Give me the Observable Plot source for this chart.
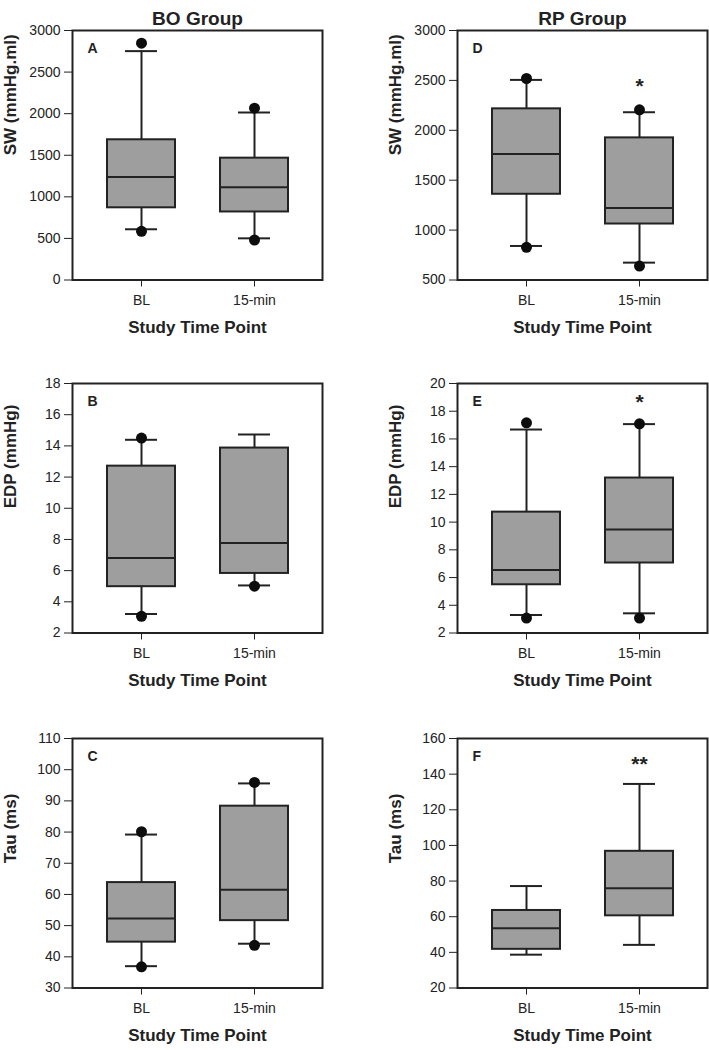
<!DOCTYPE html>
<html><head><meta charset="utf-8">
<script src="https://cdn.jsdelivr.net/npm/d3@7"></script>
<script src="https://cdn.jsdelivr.net/npm/@observablehq/plot@0.6"></script>
<style>
body{margin:0;background:#fff;}
#wrap{position:relative;width:709px;height:1050px;overflow:hidden;background:#fff;}
.cell{position:absolute;}
</style></head><body><div id="wrap"></div>
<script>
const times = ["BL", "15-min"];
const groups = ["BO Group", "RP Group"];
const xTitle = "Study Time Point";

// Panel A: SW, BO group
const boxA = [
  {time: "BL", lo: 610, q1: 868, med: 1237, q3: 1686, hi: 2752},
  {time: "15-min", lo: 501, q1: 818, med: 1116, q3: 1465, hi: 2014}
];
const outA = [{time: "BL", v: 2848}, {time: "BL", v: 586}, {time: "15-min", v: 2066}, {time: "15-min", v: 481}];
const ticksA = [0, 500, 1000, 1500, 2000, 2500, 3000];

// Panel B: EDP, BO group
const boxB = [
  {time: "BL", lo: 3.22, q1: 4.97, med: 6.81, q3: 12.70, hi: 14.39},
  {time: "15-min", lo: 5.05, q1: 5.82, med: 7.77, q3: 13.86, hi: 14.73}
];
const outB = [{time: "BL", v: 14.5}, {time: "BL", v: 3.07}, {time: "15-min", v: 5.0}];
const ticksB = [2, 4, 6, 8, 10, 12, 14, 16, 18];

// Panel C: Tau, BO group
const boxC = [
  {time: "BL", lo: 37.0, q1: 44.7, med: 52.3, q3: 63.8, hi: 79.2},
  {time: "15-min", lo: 44.2, q1: 51.6, med: 61.5, q3: 88.3, hi: 95.6}
];
const outC = [{time: "BL", v: 80.1}, {time: "BL", v: 36.8}, {time: "15-min", v: 95.9}, {time: "15-min", v: 43.7}];
const ticksC = [30, 40, 50, 60, 70, 80, 90, 100, 110];

// Panel D: SW, RP group
const boxD = [
  {time: "BL", lo: 841, q1: 1359, med: 1763, q3: 2215, hi: 2505},
  {time: "15-min", lo: 674, q1: 1061, med: 1222, q3: 1924, hi: 2181}
];
const outD = [{time: "BL", v: 2519}, {time: "BL", v: 828}, {time: "15-min", v: 2205}, {time: "15-min", v: 640}];
const starsD = [{time: "15-min", v: 2499, s: "*"}];
const ticksD = [500, 1000, 1500, 2000, 2500, 3000];

// Panel E: EDP, RP group
const boxE = [
  {time: "BL", lo: 3.30, q1: 5.48, med: 6.54, q3: 10.72, hi: 16.68},
  {time: "15-min", lo: 3.42, q1: 7.05, med: 9.47, q3: 13.18, hi: 17.07}
];
const outE = [{time: "BL", v: 17.16}, {time: "BL", v: 3.08}, {time: "15-min", v: 17.09}, {time: "15-min", v: 3.08}];
const starsE = [{time: "15-min", v: 19.1, s: "*"}];
const ticksE = [2, 4, 6, 8, 10, 12, 14, 16, 18, 20];

// Panel F: Tau, RP group
const boxF = [
  {time: "BL", lo: 38.7, q1: 41.7, med: 53.5, q3: 63.5, hi: 77.2},
  {time: "15-min", lo: 44.2, q1: 60.5, med: 76.0, q3: 96.7, hi: 134.5}
];
const outF = [];
const starsF = [{time: "15-min", v: 148.9, s: "**"}];
const ticksF = [20, 40, 60, 80, 100, 120, 140, 160];

const panels = [
  {letter: "A", col: 0, row: 0, box: boxA, out: outA, stars: [], ticks: ticksA, domain: [0, 3000], yLabel: "SW (mmHg.ml)"},
  {letter: "B", col: 0, row: 1, box: boxB, out: outB, stars: [], ticks: ticksB, domain: [2, 18], yLabel: "EDP (mmHg)"},
  {letter: "C", col: 0, row: 2, box: boxC, out: outC, stars: [], ticks: ticksC, domain: [30, 110], yLabel: "Tau (ms)"},
  {letter: "D", col: 1, row: 0, box: boxD, out: outD, stars: starsD, ticks: ticksD, domain: [500, 3000], yLabel: "SW (mmHg.ml)"},
  {letter: "E", col: 1, row: 1, box: boxE, out: outE, stars: starsE, ticks: ticksE, domain: [2, 20], yLabel: "EDP (mmHg)"},
  {letter: "F", col: 1, row: 2, box: boxF, out: outF, stars: starsF, ticks: ticksF, domain: [20, 160], yLabel: "Tau (ms)"}
];

const ink = "#222";
const boxFill = "#9e9e9e";
const wrap = document.getElementById("wrap");

for (const p of panels) {
  const left = p.col === 0;
  const W = left ? 354 : 355;
  const H = p.row === 2 ? 342 : 353;
  const top = [0, 353, 708][p.row];
  const marks = [
    Plot.ruleX(p.box, {x: "time", y1: "q3", y2: "hi", stroke: ink, strokeWidth: 2}),
    Plot.ruleX(p.box, {x: "time", y1: "lo", y2: "q1", stroke: ink, strokeWidth: 2}),
    Plot.tickY(p.box, {x: "time", y: "hi", insetLeft: 18, insetRight: 18, stroke: ink, strokeWidth: 2}),
    Plot.tickY(p.box, {x: "time", y: "lo", insetLeft: 18, insetRight: 18, stroke: ink, strokeWidth: 2}),
    Plot.barY(p.box, {x: "time", y1: "q1", y2: "q3", fill: boxFill, stroke: ink, strokeWidth: 2}),
    Plot.tickY(p.box, {x: "time", y: "med", stroke: ink, strokeWidth: 2}),
    Plot.dot(p.out, {x: "time", y: "v", r: 5.5, fill: "#0d0d0d"}),
    Plot.frame({stroke: ink, strokeWidth: 2}),
    Plot.axisY(p.ticks, {tickSize: 8, tickPadding: 4, fontSize: 14, label: null, tickFormat: d3.format("d")}),
    Plot.axisX({tickSize: 7, tickPadding: 8, fontSize: 14, label: null}),
    Plot.text([p.letter], {frameAnchor: "top-left", dx: 15, dy: 13, textAnchor: "start", fontWeight: "bold", fontSize: 14}),
    Plot.text([p.yLabel], {frameAnchor: "left", rotate: -90, dx: -62, fontWeight: "bold", fontSize: 17}),
    Plot.text([xTitle], {frameAnchor: "bottom", dy: 53, fontWeight: "bold", fontSize: 17}),
    Plot.text(p.stars, {x: "time", y: "v", text: "s", fontWeight: "bold", fontSize: 21, dy: 6})
  ];
  if (p.row === 0) {
    marks.push(Plot.text([groups[p.col]], {frameAnchor: "top", dy: -19, fontWeight: "bold", fontSize: 19}));
  }
  const svg = Plot.plot({
    width: W,
    height: H,
    marginLeft: left ? 72 : 103,
    marginRight: left ? 32 : 2,
    marginTop: 30,
    marginBottom: H - 30 - 249.5,
    x: {type: "band", domain: times, paddingInner: 0.4, paddingOuter: 0.3},
    y: {domain: p.domain},
    style: {color: ink, background: "transparent", fontFamily: "'Liberation Sans', Arial, sans-serif", overflow: "visible"},
    marks
  });
  const div = document.createElement("div");
  div.className = "cell";
  div.style.left = (left ? 0 : 354) + "px";
  div.style.top = top + "px";
  div.appendChild(svg);
  wrap.appendChild(div);
}
</script>
</body></html>
